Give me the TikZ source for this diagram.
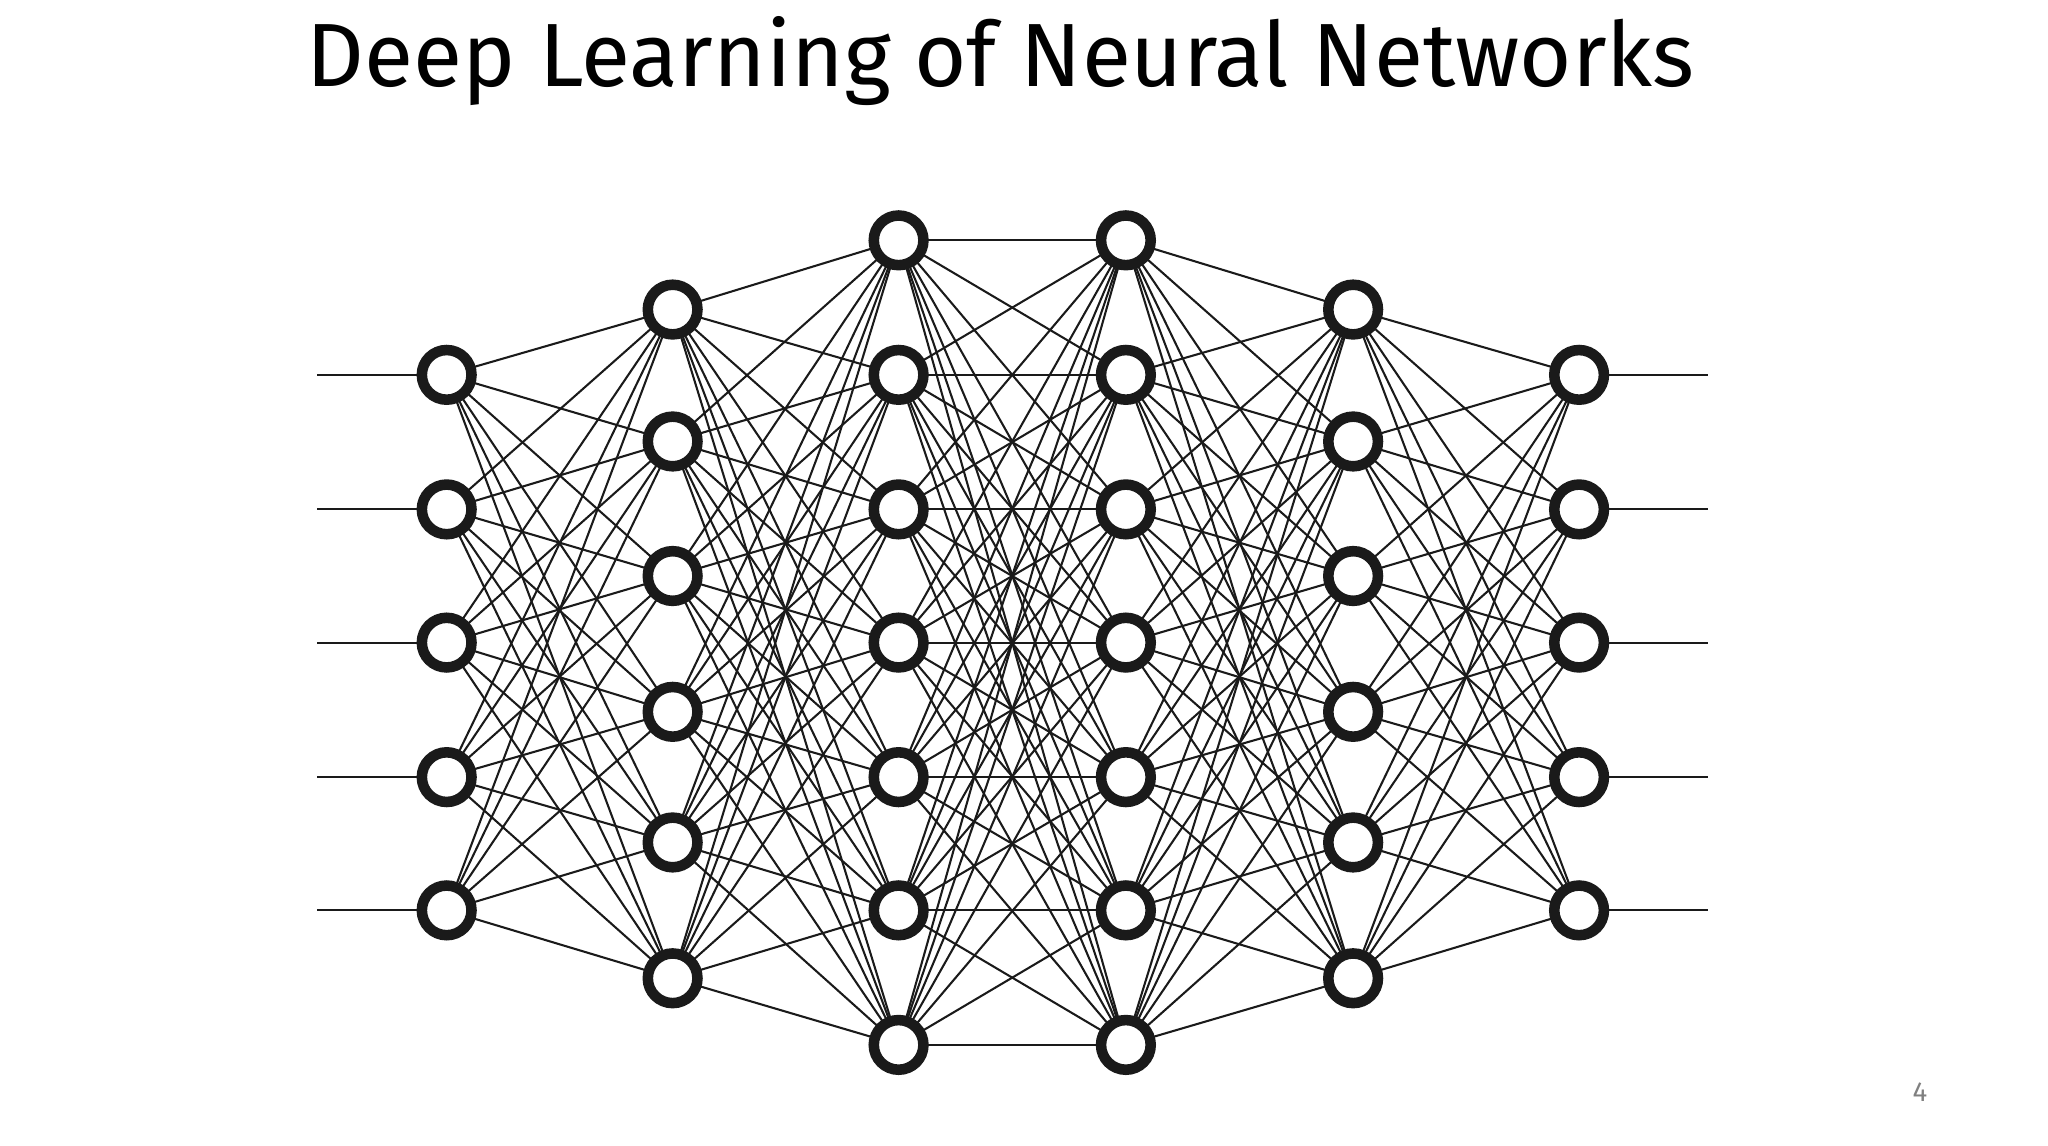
\documentclass[tikz,border=0pt]{standalone}
\usepackage{fontspec}
\setmainfont{Fira Sans}
\usepackage{graphicx}
\definecolor{ink}{HTML}{1A1A1A}
\begin{document}
\begin{tikzpicture}[x=0.01cm,y=-0.01cm,
  neuron/.style={circle,draw=ink,fill=white,line width=2.3pt,minimum size=0.38cm,inner sep=0pt},
  wire/.style={draw=ink,line width=0.45pt}]
\useasboundingbox[fill=white] (0,0) rectangle (1568,876.7);
\node (title) at (766,47) {\resizebox{10.62cm}{!}{Deep Learning of Neural Networks}};
\node[text=gray,font=\fontsize{6}{7}\selectfont] (pg) at (1470,836) {4};
% layer coordinates
\foreach \i/\y in {1/287,2/390,3/492,4/595,5/697}{
  \coordinate (a\i) at (342,\y); \coordinate (f\i) at (1209,\y);
  \coordinate (in\i) at (243,\y); \coordinate (out\i) at (1308,\y);}
\foreach \i/\y in {1/237,2/338,3/441,4/545,5/645,6/749}{
  \coordinate (b\i) at (515,\y); \coordinate (e\i) at (1036,\y);}
\foreach \i/\y in {1/184,2/287,3/390,4/492,5/595,6/697,7/800}{
  \coordinate (c\i) at (688,\y); \coordinate (d\i) at (862,\y);}
% wires
\foreach \i in {1,...,5}{\draw[wire] (in\i) -- (a\i); \draw[wire] (f\i) -- (out\i);
  \foreach \j in {1,...,6}{\draw[wire] (a\i) -- (b\j); \draw[wire] (e\j) -- (f\i);}}
\foreach \i in {1,...,6}{\foreach \j in {1,...,7}{\draw[wire] (b\i) -- (c\j); \draw[wire] (d\j) -- (e\i);}}
\foreach \i in {1,...,7}{\foreach \j in {1,...,7}{\draw[wire] (c\i) -- (d\j);}}
% neurons
\foreach \i in {1,...,5}{\node[neuron] (na\i) at (a\i) {}; \node[neuron] (nf\i) at (f\i) {};}
\foreach \i in {1,...,6}{\node[neuron] (nb\i) at (b\i) {}; \node[neuron] (ne\i) at (e\i) {};}
\foreach \i in {1,...,7}{\node[neuron] (nc\i) at (c\i) {}; \node[neuron] (nd\i) at (d\i) {};}
\end{tikzpicture}
\end{document}
